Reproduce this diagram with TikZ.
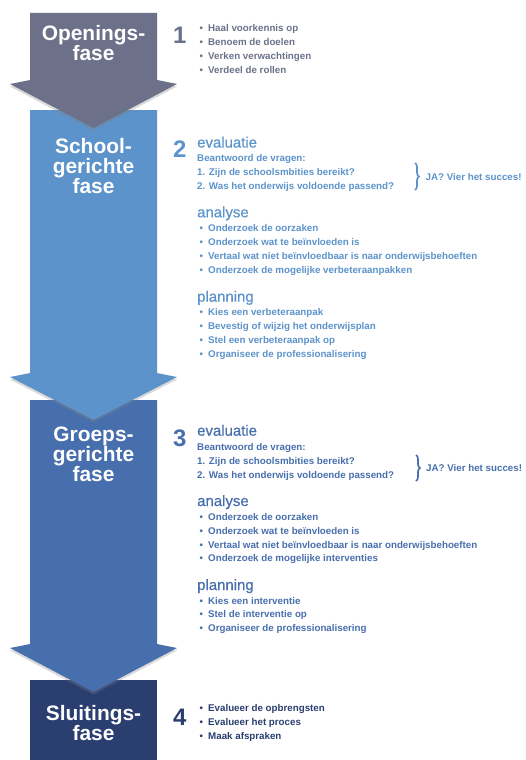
\documentclass[tikz,border=0pt]{standalone}
\usepackage{fontspec}
\setmainfont{Liberation Sans}
\newfontfamily\kopfont[FakeBold=0.6]{Liberation Sans}
\usetikzlibrary{shadows,decorations.pathreplacing}
\definecolor{faseA}{RGB}{108,113,137}
\definecolor{faseB}{RGB}{92,147,202}
\definecolor{faseC}{RGB}{72,111,173}
\definecolor{faseD}{RGB}{42,62,112}
\newcommand{\itm}[1]{\makebox[8.5bp][l]{\textbullet}#1}

\begin{document}
\begin{tikzpicture}[x=1bp,y=-1bp,
  fase/.style={drop shadow={opacity=0.3,shadow xshift=0bp,shadow yshift=-2.5bp}},
  titel/.style={anchor=base,text=white,inner sep=0pt,font=\fontsize{21}{21}\selectfont\bfseries},
  nummer/.style={anchor=base west,inner sep=0pt,font=\fontsize{24}{24}\selectfont\bfseries},
  kop/.style={anchor=base west,inner sep=0pt,font=\fontsize{15}{15}\kopfont},
  regel/.style={anchor=base west,inner sep=0pt,font=\fontsize{9.8}{11}\selectfont\bfseries},
  accolade/.style={decorate,decoration={brace,amplitude=4bp},line width=1.7bp},
]
\useasboundingbox (0,0) rectangle (526,760);
%% arrows, bottom one first
\fill[faseD] (30,680) rectangle (157,760);
\foreach \top/\wing/\tip/\kleur in {400/644/692/faseC,110/373/420/faseB,13/80/128/faseA}
  \path[fill=\kleur,fase] (30,\top) -- (157,\top) -- (157,\wing) -- (177,\wing+4)
    -- (93.5,\tip) -- (10,\wing+4) -- (30,\wing) -- cycle;
%% titles
\node (t1a) [titel] at (93.5,40.5) {Openings-};
\node (t1b) [titel] at (93.5,60.5) {fase};
\node (t2a) [titel] at (93.5,153.3) {School-};
\node (t2b) [titel] at (93.5,173.3) {gerichte};
\node (t2c) [titel] at (93.5,193.3) {fase};
\node (t3a) [titel] at (93.5,441.7) {Groeps-};
\node (t3b) [titel] at (93.5,461.7) {gerichte};
\node (t3c) [titel] at (93.5,481.7) {fase};
\node (t4a) [titel] at (93.5,720) {Sluitings-};
\node (t4b) [titel] at (93.5,740) {fase};
%% fase 1
\node (n1) [nummer,text=faseA] at (173,43.5) {1};
\foreach \t [count=\i from 0] in {Haal voorkennis op,Benoem de doelen,Verken verwachtingen,Verdeel de rollen}
  \node (s1r\i) [regel,text=faseA] at (199.5,31.7+13.9*\i) {\itm{\t}};
%% fase 2
\node (n2) [nummer,text=faseB] at (173,157) {2};
\node (e2) [kop,text=faseB] at (197,147.5) {evaluatie};
\node (v2) [regel,text=faseB] at (197,161.7) {Beantwoord de vragen:};
\node (q2a) [regel,text=faseB] at (197,175.7) {1. Zijn de schoolsmbities bereikt?};
\node (q2b) [regel,text=faseB] at (197,189.5) {2. Was het onderwijs voldoende passend?};
\coordinate (b2a) at (415,163);
\coordinate (b2b) at (415,190);
\draw[accolade,faseB] (b2a) -- (b2b);
\node (ja2) [regel,text=faseB] at (425.5,180.5) {JA? Vier het succes!};
\node (a2) [kop,text=faseB] at (197,217.3) {analyse};
\foreach \t [count=\i from 0] in {Onderzoek de oorzaken,Onderzoek wat te beïnvloeden is,Vertaal wat niet beïnvloedbaar is naar onderwijsbehoeften,Onderzoek de mogelijke verbeteraanpakken}
  \node (a2r\i) [regel,text=faseB] at (199.5,231.7+13.8*\i) {\itm{\t}};
\node (p2) [kop,text=faseB] at (197,301.7) {planning};
\foreach \t [count=\i from 0] in {Kies een verbeteraanpak,Bevestig of wijzig het onderwijsplan,Stel een verbeteraanpak op,Organiseer de professionalisering}
  \node (p2r\i) [regel,text=faseB] at (199.5,315.7+13.8*\i) {\itm{\t}};
%% fase 3
\node (n3) [nummer,text=faseC] at (173,446) {3};
\node (e3) [kop,text=faseC] at (197,435.7) {evaluatie};
\node (v3) [regel,text=faseC] at (197,450.5) {Beantwoord de vragen:};
\node (q3a) [regel,text=faseC] at (197,464.5) {1. Zijn de schoolsmbities bereikt?};
\node (q3b) [regel,text=faseC] at (197,478.3) {2. Was het onderwijs voldoende passend?};
\coordinate (b3a) at (416,455);
\coordinate (b3b) at (416,481);
\draw[accolade,faseC] (b3a) -- (b3b);
\node (ja3) [regel,text=faseC] at (426,471) {JA? Vier het succes!};
\node (a3) [kop,text=faseC] at (197,506) {analyse};
\foreach \t [count=\i from 0] in {Onderzoek de oorzaken,Onderzoek wat te beïnvloeden is,Vertaal wat niet beïnvloedbaar is naar onderwijsbehoeften,Onderzoek de mogelijke interventies}
  \node (a3r\i) [regel,text=faseC] at (199.5,520.5+13.8*\i) {\itm{\t}};
\node (p3) [kop,text=faseC] at (197,590) {planning};
\foreach \t [count=\i from 0] in {Kies een interventie,Stel de interventie op,Organiseer de professionalisering}
  \node (p3r\i) [regel,text=faseC] at (199.5,604+13.9*\i) {\itm{\t}};
%% fase 4
\node (n4) [nummer,text=faseD] at (173,725.5) {4};
\foreach \t [count=\i from 0] in {Evalueer de opbrengsten,Evalueer het proces,Maak afspraken}
  \node (s4r\i) [regel,text=faseD] at (199.5,711.7+13.8*\i) {\itm{\t}};
\end{tikzpicture}
\end{document}
